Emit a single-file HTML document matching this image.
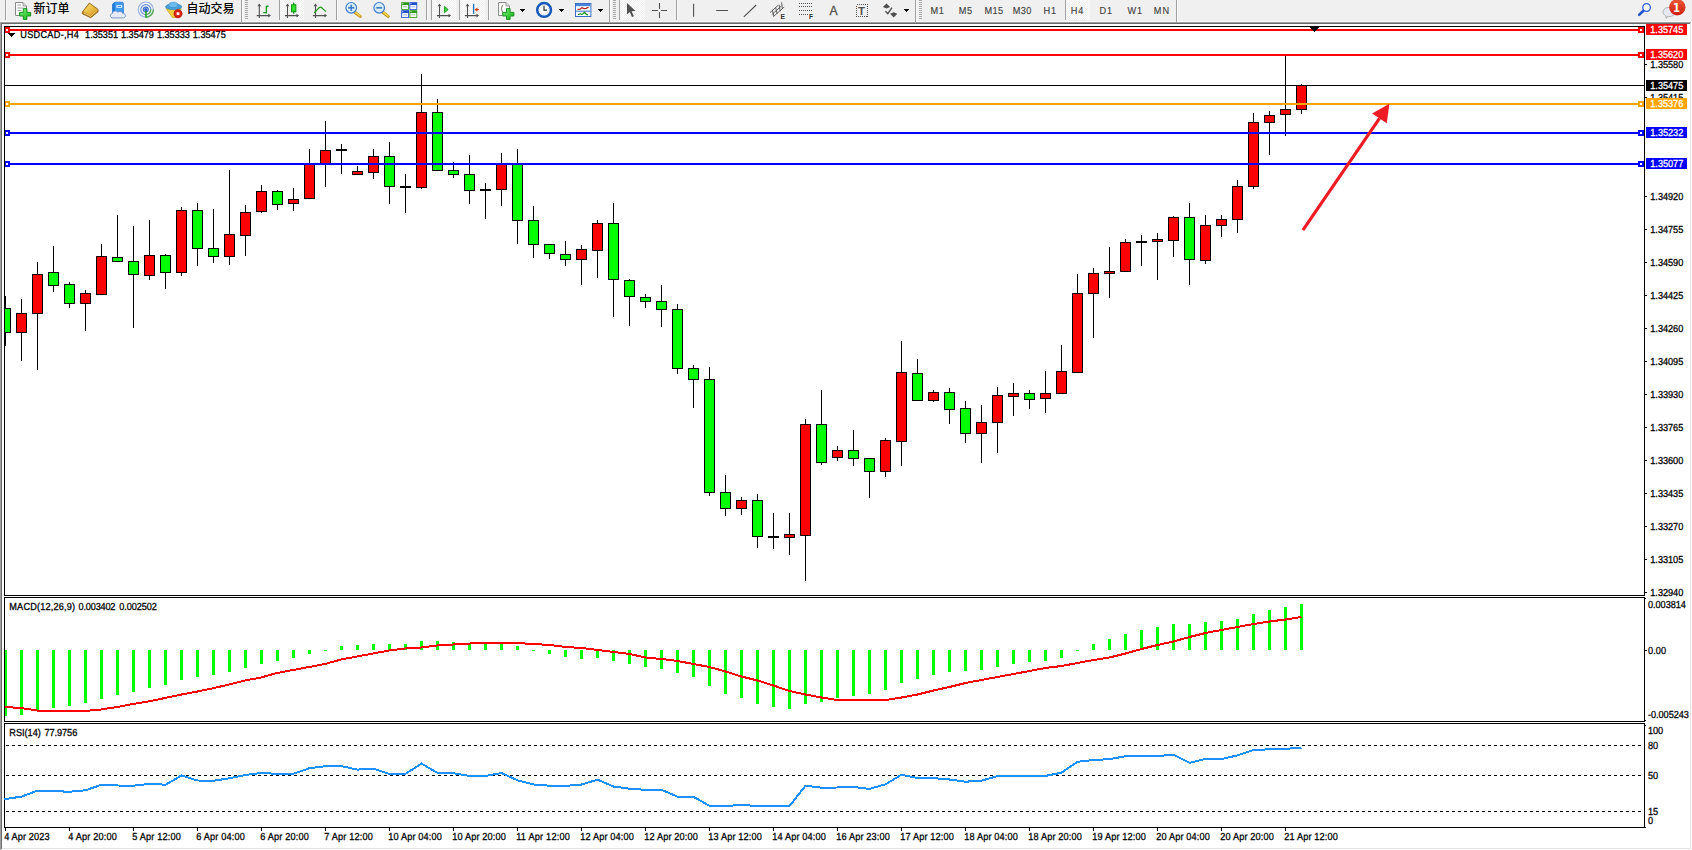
<!DOCTYPE html>
<html lang="zh"><head><meta charset="utf-8"><title>USDCAD-,H4</title>
<style>
html,body{margin:0;padding:0;background:#fff;}
body{width:1692px;height:850px;position:relative;overflow:hidden;font-family:"Liberation Sans","Noto Sans CJK SC",sans-serif;}
</style></head><body>

<svg id="chart" width="1692" height="850" viewBox="0 0 1692 850" style="position:absolute;left:0;top:0">
<defs><linearGradient id="plus" x1="0" y1="0" x2="1" y2="1"><stop offset="0" stop-color="#7df07d"/><stop offset="1" stop-color="#12b412"/></linearGradient><linearGradient id="gold" x1="0" y1="0" x2="1" y2="1"><stop offset="0" stop-color="#fbe27a"/><stop offset="1" stop-color="#d89a18"/></linearGradient><pattern id="chk" width="2" height="2" patternUnits="userSpaceOnUse"><rect width="2" height="2" fill="#f0f0f0"/><rect width="1" height="1" fill="#fff"/><rect x="1" y="1" width="1" height="1" fill="#fff"/></pattern><linearGradient id="badge" x1="0" y1="0" x2="0" y2="1"><stop offset="0" stop-color="#ea5a3a"/><stop offset="1" stop-color="#d01c0c"/></linearGradient></defs>
<g shape-rendering="crispEdges">
<rect x="0" y="0" width="1692" height="21" fill="#f0f0f0"/>
<rect x="0" y="21" width="1692" height="1" fill="#f6f6f6"/>
<rect x="0" y="22" width="1691" height="1" fill="#a0a0a0"/>
<rect x="1" y="23" width="1689" height="1" fill="#696969"/>
<rect x="0" y="22" width="1" height="828" fill="#a0a0a0"/>
<rect x="1" y="23" width="1" height="826" fill="#696969"/>
<rect x="1690" y="23" width="1" height="826" fill="#e3e3e3"/>
<rect x="2" y="848" width="1689" height="1" fill="#e3e3e3"/>
<rect x="5" y="0" width="1" height="20" fill="#a0a0a0"/>
<rect x="6" y="0" width="1" height="20" fill="#fafafa"/>
<rect x="279" y="0" width="1" height="20" fill="#a0a0a0"/>
<rect x="280" y="0" width="1" height="20" fill="#fafafa"/>
<rect x="336" y="0" width="1" height="20" fill="#a0a0a0"/>
<rect x="337" y="0" width="1" height="20" fill="#fafafa"/>
<rect x="426" y="0" width="1" height="20" fill="#a0a0a0"/>
<rect x="427" y="0" width="1" height="20" fill="#fafafa"/>
<rect x="488" y="0" width="1" height="20" fill="#a0a0a0"/>
<rect x="489" y="0" width="1" height="20" fill="#fafafa"/>
<rect x="676" y="0" width="1" height="20" fill="#a0a0a0"/>
<rect x="677" y="0" width="1" height="20" fill="#fafafa"/>
<rect x="241" y="0" width="1" height="22" fill="#a0a0a0"/>
<rect x="242" y="0" width="1" height="22" fill="#fafafa"/>
<rect x="609" y="0" width="1" height="22" fill="#a0a0a0"/>
<rect x="610" y="0" width="1" height="22" fill="#fafafa"/>
<rect x="915" y="0" width="1" height="22" fill="#a0a0a0"/>
<rect x="916" y="0" width="1" height="22" fill="#fafafa"/>
<rect x="1176" y="0" width="1" height="22" fill="#a0a0a0"/>
<rect x="1177" y="0" width="1" height="22" fill="#fafafa"/>
<rect x="245" y="0" width="3" height="1" fill="#a8a8a8"/>
<rect x="245" y="2" width="3" height="1" fill="#a8a8a8"/>
<rect x="245" y="4" width="3" height="1" fill="#a8a8a8"/>
<rect x="245" y="6" width="3" height="1" fill="#a8a8a8"/>
<rect x="245" y="8" width="3" height="1" fill="#a8a8a8"/>
<rect x="245" y="10" width="3" height="1" fill="#a8a8a8"/>
<rect x="245" y="12" width="3" height="1" fill="#a8a8a8"/>
<rect x="245" y="14" width="3" height="1" fill="#a8a8a8"/>
<rect x="245" y="16" width="3" height="1" fill="#a8a8a8"/>
<rect x="245" y="18" width="3" height="1" fill="#a8a8a8"/>
<rect x="613" y="0" width="3" height="1" fill="#a8a8a8"/>
<rect x="613" y="2" width="3" height="1" fill="#a8a8a8"/>
<rect x="613" y="4" width="3" height="1" fill="#a8a8a8"/>
<rect x="613" y="6" width="3" height="1" fill="#a8a8a8"/>
<rect x="613" y="8" width="3" height="1" fill="#a8a8a8"/>
<rect x="613" y="10" width="3" height="1" fill="#a8a8a8"/>
<rect x="613" y="12" width="3" height="1" fill="#a8a8a8"/>
<rect x="613" y="14" width="3" height="1" fill="#a8a8a8"/>
<rect x="613" y="16" width="3" height="1" fill="#a8a8a8"/>
<rect x="613" y="18" width="3" height="1" fill="#a8a8a8"/>
<rect x="919" y="0" width="3" height="1" fill="#a8a8a8"/>
<rect x="919" y="2" width="3" height="1" fill="#a8a8a8"/>
<rect x="919" y="4" width="3" height="1" fill="#a8a8a8"/>
<rect x="919" y="6" width="3" height="1" fill="#a8a8a8"/>
<rect x="919" y="8" width="3" height="1" fill="#a8a8a8"/>
<rect x="919" y="10" width="3" height="1" fill="#a8a8a8"/>
<rect x="919" y="12" width="3" height="1" fill="#a8a8a8"/>
<rect x="919" y="14" width="3" height="1" fill="#a8a8a8"/>
<rect x="919" y="16" width="3" height="1" fill="#a8a8a8"/>
<rect x="919" y="18" width="3" height="1" fill="#a8a8a8"/>
<rect x="279" y="0" width="1" height="20" fill="#a0a0a0"/>
<rect x="280" y="0" width="24" height="20" fill="url(#chk)"/>
<rect x="431" y="0" width="1" height="20" fill="#a0a0a0"/>
<rect x="432" y="0" width="24" height="20" fill="url(#chk)"/>
<rect x="459" y="0" width="1" height="20" fill="#a0a0a0"/>
<rect x="460" y="0" width="25" height="20" fill="url(#chk)"/>
<rect x="619" y="0" width="1" height="20" fill="#a0a0a0"/>
<rect x="620" y="0" width="25" height="20" fill="url(#chk)"/>
<rect x="1065" y="0" width="1" height="20" fill="#a0a0a0"/>
<rect x="1066" y="0" width="24" height="20" fill="url(#chk)"/>
</g>
<g><path d="M15.5 2.5h7.5l3.5 3.5v9.5h-11z" fill="#fdfdfd" stroke="#8a8a8a" stroke-width="1"/><path d="M23 2.5v3.5h3.5" fill="#e0e0e0" stroke="#8a8a8a" stroke-width="0.8"/><path d="M17.5 5h3.5M17.5 8h6M17.5 10.5h4" stroke="#a0a0a0" stroke-width="1"/><path d="M23.3 8.6h3.6v3.8h3.8v3.6h-3.8v3.4h-3.6v-3.4h-3.8v-3.6h3.8z" fill="url(#plus)" stroke="#0c8c10" stroke-width="0.9"/></g>
<g><path d="M82.3 12L89.3 3l8.8 6.4v2.4L90.8 17.8l-8.5-4z" fill="#b87c10" stroke="#8a5a0a" stroke-width="0.7"/><path d="M83.3 11.6L89.6 3.8l7.6 5.6-6.8 6z" fill="url(#gold)"/><path d="M83.6 12.8l7 3.4 7-6.2" stroke="#f3d98a" stroke-width="0.9" fill="none"/></g>
<g><path d="M112.6 4l2.4-1.8h7.6l0.8 1.2v9.6h-10.8z" fill="#3d9cf0" stroke="#1f6fc8" stroke-width="0.7"/><path d="M112.6 4l2.4-1.8v10.8h-2.4z" fill="#1f7ad8"/><rect x="116.4" y="5.2" width="5.8" height="2.6" fill="#e4f2ff"/><rect x="117.6" y="6" width="3.4" height="0.9" fill="#3d8ae0"/><path d="M113 17.9c-3.4 0-3.6-4.2-0.4-4.6 0.2-2.6 4-3.2 5.2-1 1.4-1.6 4.6-1 4.9 1.2 3.4-0.2 3.8 4.2 0.6 4.4z" fill="#e6ecf7" stroke="#7390c8" stroke-width="0.9"/></g>
<g fill="none"><circle cx="145.8" cy="9.6" r="7.6" stroke="#9db7e4" stroke-width="1.2"/><circle cx="145.8" cy="9.6" r="5" stroke="#6f97dc" stroke-width="1.2"/><circle cx="145.8" cy="9.6" r="2.4" stroke="#3f6fd0" stroke-width="1.2"/><path d="M145.8 17.2a7.6 7.6 0 0 0 7.6-7.6" stroke="#58b058" stroke-width="1.4"/><path d="M145.8 14.6a5 5 0 0 0 5-5" stroke="#58b058" stroke-width="1.3"/><path d="M146 9.6V17.6" stroke="#20a020" stroke-width="1.5"/><circle cx="145.8" cy="9.4" r="1.5" fill="#2a5fd0"/></g>
<g><path d="M166.2 8.6h15l-4.6 8.8h-4.2z" fill="#f7d23c" stroke="#c89a18" stroke-width="0.7"/><ellipse cx="173.6" cy="6.8" rx="8.2" ry="2.9" fill="#4aa0dc" stroke="#2b78b8" stroke-width="0.6"/><ellipse cx="173.4" cy="4.9" rx="4.6" ry="2.7" fill="#6bbcec" stroke="#2b78b8" stroke-width="0.5"/><circle cx="178" cy="13.7" r="4.2" fill="#d8200f" stroke="#a81208" stroke-width="0.5"/><rect x="176.6" y="12.3" width="2.8" height="2.8" fill="#fff"/></g>
<g stroke="#505050" stroke-width="1.1" fill="none"><path d="M259.3 4.8V18M256.7 15.6H269.8"/></g><path d="M259.3 3.6l-1.9 2.6h3.8zM270.90000000000003 15.6l-2.6 -1.9v3.8z" fill="#505050"/>
<path d="M266.4 6v7.4M266.4 6.2h2.2M263.2 12.6h3.2" stroke="#1a9a1a" stroke-width="1.4" fill="none"/>
<g stroke="#505050" stroke-width="1.1" fill="none"><path d="M287.5 4.8V18M284.9 15.6H298.0"/></g><path d="M287.5 3.6l-1.9 2.6h3.8zM299.1 15.6l-2.6 -1.9v3.8z" fill="#505050"/>
<path d="M293.7 2.4V13.8" stroke="#0a8a0a" stroke-width="1.2"/><rect x="291.5" y="4.8" width="4.4" height="7" fill="#2fe02f" stroke="#0a8a0a" stroke-width="0.9"/>
<g stroke="#505050" stroke-width="1.1" fill="none"><path d="M315.5 4.8V18M312.9 15.6H326.0"/></g><path d="M315.5 3.6l-1.9 2.6h3.8zM327.1 15.6l-2.6 -1.9v3.8z" fill="#505050"/>
<path d="M314 12.8c2.5-1 4-5.6 6.4-5.6 2 0 3.2 3.2 5.6 4.2" stroke="#1a9a1a" stroke-width="1.2" fill="none"/>
<path d="M354.8 12.2L360.2 16.4" stroke="#b88a10" stroke-width="3" stroke-linecap="round"/><path d="M355.0 12.2L360.0 16.0" stroke="#f2d24a" stroke-width="1.6" stroke-linecap="round"/><circle cx="351.2" cy="7.8" r="5.3" fill="#d8ecfb" stroke="#3f7fd0" stroke-width="1.2"/><path d="M348.2 7.8h6" stroke="#3f7fc8" stroke-width="1.7"/><path d="M351.2 4.8v6" stroke="#3f7fc8" stroke-width="1.7"/>
<path d="M382.8 12.2L388.2 16.4" stroke="#b88a10" stroke-width="3" stroke-linecap="round"/><path d="M383.0 12.2L388.0 16.0" stroke="#f2d24a" stroke-width="1.6" stroke-linecap="round"/><circle cx="379.2" cy="7.8" r="5.3" fill="#d8ecfb" stroke="#3f7fd0" stroke-width="1.2"/><path d="M376.2 7.8h6" stroke="#3f7fc8" stroke-width="1.7"/>
<rect x="401.2" y="2.2" width="7.8" height="7.6" fill="#2f9a1f"/><rect x="402.09999999999997" y="5.0" width="6.1" height="3.9" rx="0.5" fill="#f6f9ff"/><rect x="403.09999999999997" y="6.3" width="4" height="1" fill="#9ad08a"/><rect x="402.2" y="3.2" width="1" height="1" fill="#e8f0ff"/><rect x="409.4" y="2.2" width="7.8" height="7.6" fill="#2050c8"/><rect x="410.29999999999995" y="5.0" width="6.1" height="3.9" rx="0.5" fill="#f6f9ff"/><rect x="411.29999999999995" y="6.3" width="4" height="1" fill="#a0b8f0"/><rect x="410.4" y="3.2" width="1" height="1" fill="#e8f0ff"/><rect x="401.2" y="10.2" width="7.8" height="7.6" fill="#2050c8"/><rect x="402.09999999999997" y="13.0" width="6.1" height="3.9" rx="0.5" fill="#f6f9ff"/><rect x="403.09999999999997" y="14.299999999999999" width="4" height="1" fill="#a0b8f0"/><rect x="402.2" y="11.2" width="1" height="1" fill="#e8f0ff"/><rect x="409.4" y="10.2" width="7.8" height="7.6" fill="#2f9a1f"/><rect x="410.29999999999995" y="13.0" width="6.1" height="3.9" rx="0.5" fill="#f6f9ff"/><rect x="411.29999999999995" y="14.299999999999999" width="4" height="1" fill="#9ad08a"/><rect x="410.4" y="11.2" width="1" height="1" fill="#e8f0ff"/>
<g stroke="#505050" stroke-width="1.1" fill="none"><path d="M439.5 4.8V18M436.9 15.6H450.0"/></g><path d="M439.5 3.6l-1.9 2.6h3.8zM451.1 15.6l-2.6 -1.9v3.8z" fill="#505050"/>
<path d="M444.4 6.4v6.4l3.8-3.2z" fill="#38d038" stroke="#0f8f12" stroke-width="0.8"/>
<g stroke="#505050" stroke-width="1.1" fill="none"><path d="M467.5 4.8V18M464.9 15.6H478.0"/></g><path d="M467.5 3.6l-1.9 2.6h3.8zM479.1 15.6l-2.6 -1.9v3.8z" fill="#505050"/>
<path d="M473.6 3.8V13.8" stroke="#1a70b0" stroke-width="1.3"/><path d="M475 9.6h4" stroke="#d04010" stroke-width="1.2"/><path d="M474.6 9.6l2.8-2.2v4.4z" fill="#d04010"/>
<g><path d="M498.5 2.5h7.5l3.5 3.5v9.5h-11z" fill="#fdfdfd" stroke="#8a8a8a" stroke-width="1"/><path d="M506 2.5v3.5h3.5" fill="#e0e0e0" stroke="#8a8a8a" stroke-width="0.8"/><path d="M503.2 5.2c-1.6 0-1.2 3-1.8 3.6 0.6 0.6 0.2 3.4 1.8 3.4" stroke="#606050" stroke-width="0.9" fill="none"/><path d="M506.5 8.6h3.6v3.8h3.8v3.6h-3.8v3.4h-3.6v-3.4h-3.8v-3.6h3.8z" fill="url(#plus)" stroke="#0c8c10" stroke-width="0.9"/></g>
<g shape-rendering="crispEdges" fill="#000"><rect x="520" y="9" width="5" height="1"/><rect x="521" y="10" width="3" height="1"/><rect x="522" y="11" width="1" height="1"/></g>
<g shape-rendering="crispEdges" fill="#000"><rect x="559" y="9" width="5" height="1"/><rect x="560" y="10" width="3" height="1"/><rect x="561" y="11" width="1" height="1"/></g>
<g shape-rendering="crispEdges" fill="#000"><rect x="598" y="9" width="5" height="1"/><rect x="599" y="10" width="3" height="1"/><rect x="600" y="11" width="1" height="1"/></g>
<g shape-rendering="crispEdges" fill="#000"><rect x="904" y="9" width="5" height="1"/><rect x="905" y="10" width="3" height="1"/><rect x="906" y="11" width="1" height="1"/></g>
<g><circle cx="544.1" cy="9.9" r="6.9" fill="#f6f9fd" stroke="#1458b8" stroke-width="2.5"/><circle cx="544.1" cy="9.9" r="4.6" fill="none" stroke="#b0b8c4" stroke-width="0.8" stroke-dasharray="0.7 1.7"/><path d="M544 5.8v4.4h3" stroke="#303030" stroke-width="1.2" fill="none"/></g>
<g><rect x="575.5" y="3.5" width="15.4" height="13" fill="#fbfdff" stroke="#3a6fc4" stroke-width="1"/><rect x="576" y="4" width="14.4" height="2.2" fill="#4a86dc"/><path d="M576 11.2h14.4" stroke="#3a6fc4" stroke-width="1"/><path d="M577.5 9.4l2.6-0.2 1.8-1.6 2.2 1 2-0.2 2.4-1.2" stroke="#b02010" stroke-width="1.2" fill="none"/><path d="M578 14.6l2.2-0.8 1.8 0.6 2.6-2 1.8 2 1.6 0.4" stroke="#189018" stroke-width="1.2" fill="none"/></g>
<path d="M627 3v11.6l2.7-2.5 2.3 5 1.9-0.9-2.3-4.9 3.9-0.2z" fill="#505050"/>
<path d="M659.5 3v6M659.5 12v6M652 10.5h6M661 10.5h6" stroke="#505050" stroke-width="1.1" fill="none"/>
<path d="M693.6 3.8V16.8M716.2 10.5H728M743.8 16.8L756.2 5" stroke="#505050" stroke-width="1.1" fill="none"/>
<g stroke="#505050" stroke-width="0.9" fill="none"><path d="M770 12.6l8-7.2M771.8 14.6l9.6-8.6M773.4 16.6l10.8-9.6M772.4 9.8l1.4 6.4M775.6 7.4l1.6 6.4M779 4.6l1.2 6.6M781.6 2.4l0.8 6.4"/></g>
<text x="780.6" y="18.8" font-family="Liberation Sans, sans-serif" font-weight="bold" font-size="6.6" fill="#303030">E</text>
<g stroke="#505050" stroke-width="1" stroke-dasharray="1 1" fill="none" shape-rendering="crispEdges"><path d="M799 3.5H812.4M799 6.5H812.4M799 10H812.4M799 14.5H808"/></g>
<text x="809" y="18.8" font-family="Liberation Sans, sans-serif" font-weight="bold" font-size="6.6" fill="#303030">F</text>
<text x="829.6" y="14.8" font-family="Liberation Sans, sans-serif" font-size="12.2" fill="#505050" stroke="#505050" stroke-width="0.3">A</text>
<rect x="856.5" y="4.5" width="11" height="12" fill="none" stroke="#505050" stroke-width="1" stroke-dasharray="1 1" shape-rendering="crispEdges"/>
<text x="857.9" y="14.6" font-family="Liberation Sans, sans-serif" font-weight="bold" font-size="11.4" fill="#505050">T</text>
<path d="M886.5 3.4l3.6 3.6-3.6 1.6-3.6-1.6zM893.7 17.4l-3.6-3.6 3.6-1.6 3.6 1.6z" fill="#505050"/><path d="M885.4 11.2l2.4 2.4 4.2-6" stroke="#505050" stroke-width="1.4" fill="none"/>
<g font-family="Liberation Sans, sans-serif" font-size="10.2" fill="#3c3c3c" stroke="#3c3c3c" stroke-width="0.12" text-rendering="geometricPrecision">
<text transform="translate(930.6,14) scale(0.9,1)" textLength="14.67">M1</text>
<text transform="translate(958.8000000000001,14) scale(0.9,1)" textLength="14.89">M5</text>
<text transform="translate(984.6,14) scale(0.9,1)" textLength="20.67">M15</text>
<text transform="translate(1012.7,14) scale(0.9,1)" textLength="20.67">M30</text>
<text transform="translate(1043.6,14) scale(0.9,1)" textLength="14.00">H1</text>
<text transform="translate(1070.6999999999998,14) scale(0.9,1)" textLength="14.11">H4</text>
<text transform="translate(1099.5,14) scale(0.9,1)" textLength="14.00">D1</text>
<text transform="translate(1127.3999999999999,14) scale(0.9,1)" textLength="16.44">W1</text>
<text transform="translate(1153.8,14) scale(0.9,1)" textLength="17.11">MN</text>
</g>
<g font-family="Liberation Sans, Noto Sans CJK SC, sans-serif" font-size="12" font-weight="500" fill="#000"><text x="33.6" y="13.4">新订单</text><text x="186.6" y="13.4">自动交易</text></g>
<path d="M1643.4 10.8L1639.2 14.8" stroke="#2456cc" stroke-width="2.6" stroke-linecap="round"/><circle cx="1646.6" cy="7.5" r="3.8" fill="#f6f8ff" stroke="#2d5fd6" stroke-width="1.3"/>
<path d="M1669 7.4c3.4 0 6 2 6 4.6s-2.6 4.6-6 4.6c-0.6 0-1.2 0-1.7-0.2l-1 2-0.6-2.6c-1.7-0.8-2.7-2.2-2.7-3.8 0-2.6 2.6-4.6 6-4.6z" fill="#e6e8f2" stroke="#a9a9a9" stroke-width="0.9"/>
<circle cx="1677.3" cy="7.3" r="8.2" fill="url(#badge)"/>
<text transform="translate(1676.6,11.9) scale(0.86,1)" text-anchor="middle" font-family="DejaVu Sans, Liberation Sans, sans-serif" font-weight="bold" font-size="11.8" fill="#fff">1</text>
<g shape-rendering="crispEdges">
<rect x="4" y="26" width="1" height="570" fill="#000"/>
<rect x="4" y="26" width="1641" height="1" fill="#000"/>
<rect x="4" y="595" width="1641" height="1" fill="#000"/>
<rect x="1644" y="26" width="1" height="570" fill="#000"/>
<rect x="4" y="597" width="1" height="125" fill="#000"/>
<rect x="4" y="597" width="1641" height="1" fill="#000"/>
<rect x="4" y="721" width="1641" height="1" fill="#000"/>
<rect x="1644" y="597" width="1" height="125" fill="#000"/>
<rect x="4" y="723" width="1" height="105" fill="#000"/>
<rect x="4" y="723" width="1641" height="1" fill="#000"/>
<rect x="4" y="827" width="1641" height="1" fill="#000"/>
<rect x="1644" y="723" width="1" height="105" fill="#000"/>
<rect x="5" y="296" width="1" height="50" fill="#000"/>
<rect x="5" y="308" width="6" height="25" fill="#000"/>
<rect x="5" y="309" width="5" height="23" fill="#0f0"/>
<rect x="21" y="299" width="1" height="62" fill="#000"/>
<rect x="16" y="313" width="11" height="20" fill="#000"/>
<rect x="17" y="314" width="9" height="18" fill="#f00"/>
<rect x="37" y="262" width="1" height="108" fill="#000"/>
<rect x="32" y="274" width="11" height="40" fill="#000"/>
<rect x="33" y="275" width="9" height="38" fill="#f00"/>
<rect x="53" y="246" width="1" height="46" fill="#000"/>
<rect x="48" y="272" width="11" height="14" fill="#000"/>
<rect x="49" y="273" width="9" height="12" fill="#0f0"/>
<rect x="69" y="282" width="1" height="26" fill="#000"/>
<rect x="64" y="284" width="11" height="20" fill="#000"/>
<rect x="65" y="285" width="9" height="18" fill="#0f0"/>
<rect x="85" y="290" width="1" height="41" fill="#000"/>
<rect x="80" y="293" width="11" height="11" fill="#000"/>
<rect x="81" y="294" width="9" height="9" fill="#f00"/>
<rect x="101" y="244" width="1" height="51" fill="#000"/>
<rect x="96" y="256" width="11" height="39" fill="#000"/>
<rect x="97" y="257" width="9" height="37" fill="#f00"/>
<rect x="117" y="215" width="1" height="47" fill="#000"/>
<rect x="112" y="257" width="11" height="5" fill="#000"/>
<rect x="113" y="258" width="9" height="3" fill="#0f0"/>
<rect x="133" y="226" width="1" height="102" fill="#000"/>
<rect x="128" y="261" width="11" height="14" fill="#000"/>
<rect x="129" y="262" width="9" height="12" fill="#0f0"/>
<rect x="149" y="220" width="1" height="60" fill="#000"/>
<rect x="144" y="255" width="11" height="21" fill="#000"/>
<rect x="145" y="256" width="9" height="19" fill="#f00"/>
<rect x="165" y="254" width="1" height="35" fill="#000"/>
<rect x="160" y="255" width="11" height="18" fill="#000"/>
<rect x="161" y="256" width="9" height="16" fill="#0f0"/>
<rect x="181" y="207" width="1" height="69" fill="#000"/>
<rect x="176" y="210" width="11" height="63" fill="#000"/>
<rect x="177" y="211" width="9" height="61" fill="#f00"/>
<rect x="197" y="203" width="1" height="63" fill="#000"/>
<rect x="192" y="210" width="11" height="39" fill="#000"/>
<rect x="193" y="211" width="9" height="37" fill="#0f0"/>
<rect x="213" y="209" width="1" height="54" fill="#000"/>
<rect x="208" y="248" width="11" height="9" fill="#000"/>
<rect x="209" y="249" width="9" height="7" fill="#0f0"/>
<rect x="229" y="170" width="1" height="95" fill="#000"/>
<rect x="224" y="234" width="11" height="23" fill="#000"/>
<rect x="225" y="235" width="9" height="21" fill="#f00"/>
<rect x="245" y="205" width="1" height="51" fill="#000"/>
<rect x="240" y="212" width="11" height="24" fill="#000"/>
<rect x="241" y="213" width="9" height="22" fill="#f00"/>
<rect x="261" y="185" width="1" height="28" fill="#000"/>
<rect x="256" y="191" width="11" height="21" fill="#000"/>
<rect x="257" y="192" width="9" height="19" fill="#f00"/>
<rect x="277" y="190" width="1" height="20" fill="#000"/>
<rect x="272" y="191" width="11" height="14" fill="#000"/>
<rect x="273" y="192" width="9" height="12" fill="#0f0"/>
<rect x="293" y="188" width="1" height="23" fill="#000"/>
<rect x="288" y="199" width="11" height="5" fill="#000"/>
<rect x="289" y="200" width="9" height="3" fill="#f00"/>
<rect x="309" y="149" width="1" height="50" fill="#000"/>
<rect x="304" y="164" width="11" height="35" fill="#000"/>
<rect x="305" y="165" width="9" height="33" fill="#f00"/>
<rect x="325" y="121" width="1" height="66" fill="#000"/>
<rect x="320" y="150" width="11" height="15" fill="#000"/>
<rect x="321" y="151" width="9" height="13" fill="#f00"/>
<rect x="341" y="144" width="1" height="30" fill="#000"/>
<rect x="336" y="149" width="11" height="2" fill="#000"/>
<rect x="357" y="166" width="1" height="9" fill="#000"/>
<rect x="352" y="171" width="11" height="4" fill="#000"/>
<rect x="353" y="172" width="9" height="2" fill="#f00"/>
<rect x="373" y="149" width="1" height="30" fill="#000"/>
<rect x="368" y="156" width="11" height="17" fill="#000"/>
<rect x="369" y="157" width="9" height="15" fill="#f00"/>
<rect x="389" y="142" width="1" height="62" fill="#000"/>
<rect x="384" y="156" width="11" height="31" fill="#000"/>
<rect x="385" y="157" width="9" height="29" fill="#0f0"/>
<rect x="405" y="174" width="1" height="39" fill="#000"/>
<rect x="400" y="186" width="11" height="2" fill="#000"/>
<rect x="421" y="74" width="1" height="115" fill="#000"/>
<rect x="416" y="112" width="11" height="76" fill="#000"/>
<rect x="417" y="113" width="9" height="74" fill="#f00"/>
<rect x="437" y="99" width="1" height="72" fill="#000"/>
<rect x="432" y="112" width="11" height="59" fill="#000"/>
<rect x="433" y="113" width="9" height="57" fill="#0f0"/>
<rect x="453" y="162" width="1" height="16" fill="#000"/>
<rect x="448" y="170" width="11" height="5" fill="#000"/>
<rect x="449" y="171" width="9" height="3" fill="#0f0"/>
<rect x="469" y="155" width="1" height="49" fill="#000"/>
<rect x="464" y="174" width="11" height="17" fill="#000"/>
<rect x="465" y="175" width="9" height="15" fill="#0f0"/>
<rect x="485" y="183" width="1" height="36" fill="#000"/>
<rect x="480" y="189" width="11" height="2" fill="#000"/>
<rect x="501" y="153" width="1" height="53" fill="#000"/>
<rect x="496" y="164" width="11" height="26" fill="#000"/>
<rect x="497" y="165" width="9" height="24" fill="#f00"/>
<rect x="517" y="149" width="1" height="95" fill="#000"/>
<rect x="512" y="164" width="11" height="57" fill="#000"/>
<rect x="513" y="165" width="9" height="55" fill="#0f0"/>
<rect x="533" y="206" width="1" height="52" fill="#000"/>
<rect x="528" y="220" width="11" height="25" fill="#000"/>
<rect x="529" y="221" width="9" height="23" fill="#0f0"/>
<rect x="549" y="244" width="1" height="15" fill="#000"/>
<rect x="544" y="244" width="11" height="10" fill="#000"/>
<rect x="545" y="245" width="9" height="8" fill="#0f0"/>
<rect x="565" y="241" width="1" height="25" fill="#000"/>
<rect x="560" y="254" width="11" height="6" fill="#000"/>
<rect x="561" y="255" width="9" height="4" fill="#0f0"/>
<rect x="581" y="245" width="1" height="40" fill="#000"/>
<rect x="576" y="249" width="11" height="11" fill="#000"/>
<rect x="577" y="250" width="9" height="9" fill="#f00"/>
<rect x="597" y="220" width="1" height="58" fill="#000"/>
<rect x="592" y="223" width="11" height="28" fill="#000"/>
<rect x="593" y="224" width="9" height="26" fill="#f00"/>
<rect x="613" y="203" width="1" height="114" fill="#000"/>
<rect x="608" y="223" width="11" height="57" fill="#000"/>
<rect x="609" y="224" width="9" height="55" fill="#0f0"/>
<rect x="629" y="279" width="1" height="47" fill="#000"/>
<rect x="624" y="280" width="11" height="17" fill="#000"/>
<rect x="625" y="281" width="9" height="15" fill="#0f0"/>
<rect x="645" y="294" width="1" height="14" fill="#000"/>
<rect x="640" y="297" width="11" height="5" fill="#000"/>
<rect x="641" y="298" width="9" height="3" fill="#0f0"/>
<rect x="661" y="285" width="1" height="42" fill="#000"/>
<rect x="656" y="301" width="11" height="9" fill="#000"/>
<rect x="657" y="302" width="9" height="7" fill="#0f0"/>
<rect x="677" y="304" width="1" height="70" fill="#000"/>
<rect x="672" y="309" width="11" height="60" fill="#000"/>
<rect x="673" y="310" width="9" height="58" fill="#0f0"/>
<rect x="693" y="365" width="1" height="43" fill="#000"/>
<rect x="688" y="368" width="11" height="12" fill="#000"/>
<rect x="689" y="369" width="9" height="10" fill="#0f0"/>
<rect x="709" y="367" width="1" height="129" fill="#000"/>
<rect x="704" y="379" width="11" height="114" fill="#000"/>
<rect x="705" y="380" width="9" height="112" fill="#0f0"/>
<rect x="725" y="475" width="1" height="41" fill="#000"/>
<rect x="720" y="492" width="11" height="17" fill="#000"/>
<rect x="721" y="493" width="9" height="15" fill="#0f0"/>
<rect x="741" y="497" width="1" height="18" fill="#000"/>
<rect x="736" y="500" width="11" height="9" fill="#000"/>
<rect x="737" y="501" width="9" height="7" fill="#f00"/>
<rect x="757" y="494" width="1" height="54" fill="#000"/>
<rect x="752" y="500" width="11" height="37" fill="#000"/>
<rect x="753" y="501" width="9" height="35" fill="#0f0"/>
<rect x="773" y="513" width="1" height="36" fill="#000"/>
<rect x="768" y="536" width="11" height="2" fill="#000"/>
<rect x="789" y="513" width="1" height="42" fill="#000"/>
<rect x="784" y="534" width="11" height="4" fill="#000"/>
<rect x="785" y="535" width="9" height="2" fill="#f00"/>
<rect x="805" y="419" width="1" height="162" fill="#000"/>
<rect x="800" y="424" width="11" height="112" fill="#000"/>
<rect x="801" y="425" width="9" height="110" fill="#f00"/>
<rect x="821" y="390" width="1" height="75" fill="#000"/>
<rect x="816" y="424" width="11" height="39" fill="#000"/>
<rect x="817" y="425" width="9" height="37" fill="#0f0"/>
<rect x="837" y="446" width="1" height="15" fill="#000"/>
<rect x="832" y="450" width="11" height="8" fill="#000"/>
<rect x="833" y="451" width="9" height="6" fill="#f00"/>
<rect x="853" y="430" width="1" height="36" fill="#000"/>
<rect x="848" y="450" width="11" height="9" fill="#000"/>
<rect x="849" y="451" width="9" height="7" fill="#0f0"/>
<rect x="869" y="458" width="1" height="40" fill="#000"/>
<rect x="864" y="458" width="11" height="14" fill="#000"/>
<rect x="865" y="459" width="9" height="12" fill="#0f0"/>
<rect x="885" y="438" width="1" height="39" fill="#000"/>
<rect x="880" y="440" width="11" height="32" fill="#000"/>
<rect x="881" y="441" width="9" height="30" fill="#f00"/>
<rect x="901" y="341" width="1" height="125" fill="#000"/>
<rect x="896" y="372" width="11" height="70" fill="#000"/>
<rect x="897" y="373" width="9" height="68" fill="#f00"/>
<rect x="917" y="359" width="1" height="42" fill="#000"/>
<rect x="912" y="373" width="11" height="28" fill="#000"/>
<rect x="913" y="374" width="9" height="26" fill="#0f0"/>
<rect x="933" y="390" width="1" height="12" fill="#000"/>
<rect x="928" y="392" width="11" height="9" fill="#000"/>
<rect x="929" y="393" width="9" height="7" fill="#f00"/>
<rect x="949" y="388" width="1" height="36" fill="#000"/>
<rect x="944" y="392" width="11" height="18" fill="#000"/>
<rect x="945" y="393" width="9" height="16" fill="#0f0"/>
<rect x="965" y="401" width="1" height="42" fill="#000"/>
<rect x="960" y="408" width="11" height="26" fill="#000"/>
<rect x="961" y="409" width="9" height="24" fill="#0f0"/>
<rect x="981" y="405" width="1" height="58" fill="#000"/>
<rect x="976" y="422" width="11" height="12" fill="#000"/>
<rect x="977" y="423" width="9" height="10" fill="#f00"/>
<rect x="997" y="387" width="1" height="66" fill="#000"/>
<rect x="992" y="395" width="11" height="28" fill="#000"/>
<rect x="993" y="396" width="9" height="26" fill="#f00"/>
<rect x="1013" y="383" width="1" height="33" fill="#000"/>
<rect x="1008" y="393" width="11" height="4" fill="#000"/>
<rect x="1009" y="394" width="9" height="2" fill="#f00"/>
<rect x="1029" y="390" width="1" height="19" fill="#000"/>
<rect x="1024" y="393" width="11" height="7" fill="#000"/>
<rect x="1025" y="394" width="9" height="5" fill="#0f0"/>
<rect x="1045" y="371" width="1" height="42" fill="#000"/>
<rect x="1040" y="393" width="11" height="6" fill="#000"/>
<rect x="1041" y="394" width="9" height="4" fill="#f00"/>
<rect x="1061" y="345" width="1" height="49" fill="#000"/>
<rect x="1056" y="371" width="11" height="23" fill="#000"/>
<rect x="1057" y="372" width="9" height="21" fill="#f00"/>
<rect x="1077" y="274" width="1" height="99" fill="#000"/>
<rect x="1072" y="293" width="11" height="80" fill="#000"/>
<rect x="1073" y="294" width="9" height="78" fill="#f00"/>
<rect x="1093" y="268" width="1" height="70" fill="#000"/>
<rect x="1088" y="273" width="11" height="21" fill="#000"/>
<rect x="1089" y="274" width="9" height="19" fill="#f00"/>
<rect x="1109" y="247" width="1" height="51" fill="#000"/>
<rect x="1104" y="271" width="11" height="3" fill="#000"/>
<rect x="1105" y="272" width="9" height="1" fill="#f00"/>
<rect x="1125" y="239" width="1" height="33" fill="#000"/>
<rect x="1120" y="242" width="11" height="30" fill="#000"/>
<rect x="1121" y="243" width="9" height="28" fill="#f00"/>
<rect x="1141" y="235" width="1" height="31" fill="#000"/>
<rect x="1136" y="241" width="11" height="2" fill="#000"/>
<rect x="1157" y="233" width="1" height="47" fill="#000"/>
<rect x="1152" y="239" width="11" height="3" fill="#000"/>
<rect x="1153" y="240" width="9" height="1" fill="#f00"/>
<rect x="1173" y="216" width="1" height="41" fill="#000"/>
<rect x="1168" y="217" width="11" height="24" fill="#000"/>
<rect x="1169" y="218" width="9" height="22" fill="#f00"/>
<rect x="1189" y="203" width="1" height="82" fill="#000"/>
<rect x="1184" y="217" width="11" height="43" fill="#000"/>
<rect x="1185" y="218" width="9" height="41" fill="#0f0"/>
<rect x="1205" y="215" width="1" height="49" fill="#000"/>
<rect x="1200" y="225" width="11" height="36" fill="#000"/>
<rect x="1201" y="226" width="9" height="34" fill="#f00"/>
<rect x="1221" y="215" width="1" height="22" fill="#000"/>
<rect x="1216" y="219" width="11" height="7" fill="#000"/>
<rect x="1217" y="220" width="9" height="5" fill="#f00"/>
<rect x="1237" y="180" width="1" height="53" fill="#000"/>
<rect x="1232" y="186" width="11" height="34" fill="#000"/>
<rect x="1233" y="187" width="9" height="32" fill="#f00"/>
<rect x="1253" y="113" width="1" height="76" fill="#000"/>
<rect x="1248" y="122" width="11" height="65" fill="#000"/>
<rect x="1249" y="123" width="9" height="63" fill="#f00"/>
<rect x="1269" y="111" width="1" height="44" fill="#000"/>
<rect x="1264" y="115" width="11" height="8" fill="#000"/>
<rect x="1265" y="116" width="9" height="6" fill="#f00"/>
<rect x="1285" y="56" width="1" height="80" fill="#000"/>
<rect x="1280" y="109" width="11" height="6" fill="#000"/>
<rect x="1281" y="110" width="9" height="4" fill="#f00"/>
<rect x="1301" y="84" width="1" height="30" fill="#000"/>
<rect x="1296" y="85" width="11" height="25" fill="#000"/>
<rect x="1297" y="86" width="9" height="23" fill="#f00"/>
<rect x="5" y="85" width="1639" height="1" fill="#000"/>
<rect x="5" y="29" width="1639" height="2" fill="#f00"/>
<rect x="5" y="27" width="5" height="6" fill="#f00"/>
<rect x="6" y="29" width="2" height="2" fill="#fff"/>
<rect x="1638" y="27" width="6" height="6" fill="#f00"/>
<rect x="1640" y="29" width="2" height="2" fill="#fff"/>
<rect x="5" y="54" width="1639" height="2" fill="#f00"/>
<rect x="5" y="52" width="5" height="6" fill="#f00"/>
<rect x="6" y="54" width="2" height="2" fill="#fff"/>
<rect x="1638" y="52" width="6" height="6" fill="#f00"/>
<rect x="1640" y="54" width="2" height="2" fill="#fff"/>
<rect x="5" y="103" width="1639" height="2" fill="#ffa500"/>
<rect x="5" y="101" width="5" height="6" fill="#ffa500"/>
<rect x="6" y="103" width="2" height="2" fill="#fff"/>
<rect x="1638" y="101" width="6" height="6" fill="#ffa500"/>
<rect x="1640" y="103" width="2" height="2" fill="#fff"/>
<rect x="5" y="132" width="1639" height="2" fill="#00f"/>
<rect x="5" y="130" width="5" height="6" fill="#00f"/>
<rect x="6" y="132" width="2" height="2" fill="#fff"/>
<rect x="1638" y="130" width="6" height="6" fill="#00f"/>
<rect x="1640" y="132" width="2" height="2" fill="#fff"/>
<rect x="5" y="163" width="1639" height="2" fill="#00f"/>
<rect x="5" y="161" width="5" height="6" fill="#00f"/>
<rect x="6" y="163" width="2" height="2" fill="#fff"/>
<rect x="1638" y="161" width="6" height="6" fill="#00f"/>
<rect x="1640" y="163" width="2" height="2" fill="#fff"/>
<rect x="1310" y="27" width="9" height="1" fill="#000"/>
<rect x="1311" y="28" width="7" height="1" fill="#000"/>
<rect x="1312" y="29" width="5" height="1" fill="#000"/>
<rect x="1313" y="30" width="3" height="1" fill="#000"/>
<rect x="1314" y="31" width="1" height="1" fill="#000"/>
<rect x="8" y="33" width="7" height="1" fill="#000"/>
<rect x="9" y="34" width="5" height="1" fill="#000"/>
<rect x="10" y="35" width="3" height="1" fill="#000"/>
<rect x="11" y="36" width="1" height="1" fill="#000"/>
<rect x="1645" y="64" width="2" height="1" fill="#000"/>
<rect x="1645" y="97" width="2" height="1" fill="#000"/>
<rect x="1645" y="196" width="2" height="1" fill="#000"/>
<rect x="1645" y="229" width="2" height="1" fill="#000"/>
<rect x="1645" y="262" width="2" height="1" fill="#000"/>
<rect x="1645" y="295" width="2" height="1" fill="#000"/>
<rect x="1645" y="328" width="2" height="1" fill="#000"/>
<rect x="1645" y="361" width="2" height="1" fill="#000"/>
<rect x="1645" y="394" width="2" height="1" fill="#000"/>
<rect x="1645" y="427" width="2" height="1" fill="#000"/>
<rect x="1645" y="460" width="2" height="1" fill="#000"/>
<rect x="1645" y="493" width="2" height="1" fill="#000"/>
<rect x="1645" y="526" width="2" height="1" fill="#000"/>
<rect x="1645" y="559" width="2" height="1" fill="#000"/>
<rect x="1645" y="592" width="2" height="1" fill="#000"/>
<rect x="5" y="650" width="2" height="66" fill="#0f0"/>
<rect x="20" y="650" width="3" height="65" fill="#0f0"/>
<rect x="36" y="650" width="3" height="61" fill="#0f0"/>
<rect x="52" y="650" width="3" height="58" fill="#0f0"/>
<rect x="68" y="650" width="3" height="56" fill="#0f0"/>
<rect x="84" y="650" width="3" height="53" fill="#0f0"/>
<rect x="100" y="650" width="3" height="49" fill="#0f0"/>
<rect x="116" y="650" width="3" height="45" fill="#0f0"/>
<rect x="132" y="650" width="3" height="42" fill="#0f0"/>
<rect x="148" y="650" width="3" height="38" fill="#0f0"/>
<rect x="164" y="650" width="3" height="35" fill="#0f0"/>
<rect x="180" y="650" width="3" height="30" fill="#0f0"/>
<rect x="196" y="650" width="3" height="27" fill="#0f0"/>
<rect x="212" y="650" width="3" height="25" fill="#0f0"/>
<rect x="228" y="650" width="3" height="22" fill="#0f0"/>
<rect x="244" y="650" width="3" height="18" fill="#0f0"/>
<rect x="260" y="650" width="3" height="14" fill="#0f0"/>
<rect x="276" y="650" width="3" height="11" fill="#0f0"/>
<rect x="292" y="650" width="3" height="8" fill="#0f0"/>
<rect x="308" y="650" width="3" height="4" fill="#0f0"/>
<rect x="324" y="650" width="3" height="1" fill="#0f0"/>
<rect x="340" y="646" width="3" height="4" fill="#0f0"/>
<rect x="356" y="645" width="3" height="5" fill="#0f0"/>
<rect x="372" y="644" width="3" height="6" fill="#0f0"/>
<rect x="388" y="644" width="3" height="6" fill="#0f0"/>
<rect x="404" y="644" width="3" height="6" fill="#0f0"/>
<rect x="420" y="641" width="3" height="9" fill="#0f0"/>
<rect x="436" y="641" width="3" height="9" fill="#0f0"/>
<rect x="452" y="642" width="3" height="8" fill="#0f0"/>
<rect x="468" y="643" width="3" height="7" fill="#0f0"/>
<rect x="484" y="644" width="3" height="6" fill="#0f0"/>
<rect x="500" y="644" width="3" height="6" fill="#0f0"/>
<rect x="516" y="646" width="3" height="4" fill="#0f0"/>
<rect x="532" y="650" width="3" height="1" fill="#0f0"/>
<rect x="548" y="650" width="3" height="4" fill="#0f0"/>
<rect x="564" y="650" width="3" height="7" fill="#0f0"/>
<rect x="580" y="650" width="3" height="9" fill="#0f0"/>
<rect x="596" y="650" width="3" height="8" fill="#0f0"/>
<rect x="612" y="650" width="3" height="11" fill="#0f0"/>
<rect x="628" y="650" width="3" height="14" fill="#0f0"/>
<rect x="644" y="650" width="3" height="17" fill="#0f0"/>
<rect x="660" y="650" width="3" height="19" fill="#0f0"/>
<rect x="676" y="650" width="3" height="23" fill="#0f0"/>
<rect x="692" y="650" width="3" height="27" fill="#0f0"/>
<rect x="708" y="650" width="3" height="36" fill="#0f0"/>
<rect x="724" y="650" width="3" height="44" fill="#0f0"/>
<rect x="740" y="650" width="3" height="48" fill="#0f0"/>
<rect x="756" y="650" width="3" height="54" fill="#0f0"/>
<rect x="772" y="650" width="3" height="57" fill="#0f0"/>
<rect x="788" y="650" width="3" height="59" fill="#0f0"/>
<rect x="804" y="650" width="3" height="54" fill="#0f0"/>
<rect x="820" y="650" width="3" height="52" fill="#0f0"/>
<rect x="836" y="650" width="3" height="48" fill="#0f0"/>
<rect x="852" y="650" width="3" height="46" fill="#0f0"/>
<rect x="868" y="650" width="3" height="44" fill="#0f0"/>
<rect x="884" y="650" width="3" height="40" fill="#0f0"/>
<rect x="900" y="650" width="3" height="33" fill="#0f0"/>
<rect x="916" y="650" width="3" height="29" fill="#0f0"/>
<rect x="932" y="650" width="3" height="25" fill="#0f0"/>
<rect x="948" y="650" width="3" height="22" fill="#0f0"/>
<rect x="964" y="650" width="3" height="21" fill="#0f0"/>
<rect x="980" y="650" width="3" height="20" fill="#0f0"/>
<rect x="996" y="650" width="3" height="17" fill="#0f0"/>
<rect x="1012" y="650" width="3" height="14" fill="#0f0"/>
<rect x="1028" y="650" width="3" height="12" fill="#0f0"/>
<rect x="1044" y="650" width="3" height="11" fill="#0f0"/>
<rect x="1060" y="650" width="3" height="8" fill="#0f0"/>
<rect x="1076" y="650" width="3" height="1" fill="#0f0"/>
<rect x="1092" y="644" width="3" height="6" fill="#0f0"/>
<rect x="1108" y="639" width="3" height="11" fill="#0f0"/>
<rect x="1124" y="634" width="3" height="16" fill="#0f0"/>
<rect x="1140" y="630" width="3" height="20" fill="#0f0"/>
<rect x="1156" y="627" width="3" height="23" fill="#0f0"/>
<rect x="1172" y="624" width="3" height="26" fill="#0f0"/>
<rect x="1188" y="624" width="3" height="26" fill="#0f0"/>
<rect x="1204" y="622" width="3" height="28" fill="#0f0"/>
<rect x="1220" y="621" width="3" height="29" fill="#0f0"/>
<rect x="1236" y="619" width="3" height="31" fill="#0f0"/>
<rect x="1252" y="614" width="3" height="36" fill="#0f0"/>
<rect x="1268" y="610" width="3" height="40" fill="#0f0"/>
<rect x="1284" y="607" width="3" height="43" fill="#0f0"/>
<rect x="1300" y="604" width="3" height="46" fill="#0f0"/>
<rect x="1645" y="650" width="2" height="1" fill="#000"/>
<rect x="1645" y="720" width="1" height="1" fill="#000"/>
<rect x="1645" y="725" width="1" height="1" fill="#000"/>
<rect x="1645" y="598" width="1" height="1" fill="#000"/>
<rect x="1645" y="827" width="1" height="1" fill="#000"/>
<path d="M6 745.5H1644" stroke="#000" stroke-width="1" stroke-dasharray="3 3" fill="none"/>
<path d="M6 775.5H1644" stroke="#000" stroke-width="1" stroke-dasharray="3 3" fill="none"/>
<path d="M6 811.5H1644" stroke="#000" stroke-width="1" stroke-dasharray="3 3" fill="none"/>
<rect x="5" y="828" width="1" height="3" fill="#000"/>
<rect x="69" y="828" width="1" height="3" fill="#000"/>
<rect x="133" y="828" width="1" height="3" fill="#000"/>
<rect x="197" y="828" width="1" height="3" fill="#000"/>
<rect x="261" y="828" width="1" height="3" fill="#000"/>
<rect x="325" y="828" width="1" height="3" fill="#000"/>
<rect x="389" y="828" width="1" height="3" fill="#000"/>
<rect x="453" y="828" width="1" height="3" fill="#000"/>
<rect x="517" y="828" width="1" height="3" fill="#000"/>
<rect x="581" y="828" width="1" height="3" fill="#000"/>
<rect x="645" y="828" width="1" height="3" fill="#000"/>
<rect x="709" y="828" width="1" height="3" fill="#000"/>
<rect x="773" y="828" width="1" height="3" fill="#000"/>
<rect x="837" y="828" width="1" height="3" fill="#000"/>
<rect x="901" y="828" width="1" height="3" fill="#000"/>
<rect x="965" y="828" width="1" height="3" fill="#000"/>
<rect x="1029" y="828" width="1" height="3" fill="#000"/>
<rect x="1093" y="828" width="1" height="3" fill="#000"/>
<rect x="1157" y="828" width="1" height="3" fill="#000"/>
<rect x="1221" y="828" width="1" height="3" fill="#000"/>
<rect x="1285" y="828" width="1" height="3" fill="#000"/>
</g>
<polyline points="5,707 21,708 37,710.5 53,711 69,711 85,711 101,709.5 117,707 133,704 149,701.3 165,698 181,694.6 197,691.6 213,688.3 229,684.5 245,680.5 261,677.5 277,673 293,670 309,667 325,664 341,659.5 357,656.5 373,653.5 389,650.5 405,648.5 421.5,647.5 437.5,645.5 453.5,644.5 470,643.5 485,643 501,643 517,643 533.5,644 549.5,645 565.5,647 581.5,648 597.5,650 613.5,652 629.5,654 645.5,657.5 661.5,659 677.5,661 693.5,664 709.5,667 725.5,671.5 741.5,676.5 757.5,680.5 773.5,685.5 789.5,691 805.5,694.5 821.5,697.5 837.5,700 853.5,700 869.5,700 885.5,700 901.5,697.5 917.5,694.5 933.5,690.5 949.5,687 965.5,683 981.5,680 997.5,677 1013.5,674 1029.5,671 1045.5,668 1061.5,666 1077.5,663 1093.5,660 1109.5,657.5 1125.5,653.5 1141.5,649 1157.5,645 1173.5,641.5 1189.5,637 1205.5,633 1221.5,630 1237.5,627 1253.5,624 1269.5,621.5 1285.5,619.5 1301.5,617" fill="none" stroke="#f00" stroke-width="2" shape-rendering="crispEdges"/>
<polyline points="4.5,799.5 5.5,799 21.5,796.6 37.5,790.7 53.5,791.2 69.5,791.7 85.5,790.3 101.5,784.7 117.5,785.5 133.5,785.7 149.5,783.9 165.5,784.7 181.5,775.5 197.5,780.5 213.5,780.7 229.5,778.3 245.5,775 261.5,772.9 277.5,773.9 293.5,773.7 309.5,768.2 325.5,766.2 341.5,766.2 357.5,769.6 373.5,768.8 389.5,773.9 405.5,773.9 421.5,763.6 437.5,772.9 453.5,773.3 469.5,775.9 485.5,775.9 501.5,773 517.5,780.3 533.5,784.5 549.5,785.7 565.5,785.9 581.5,784.5 597.5,779.7 613.5,786.5 629.5,788.7 645.5,789.8 661.5,789.9 677.5,796.6 693.5,796.8 709.5,805.8 725.5,806 741.5,805 757.5,806 773.5,806 789.5,806 805.5,785.7 821.5,787.7 837.5,787.5 853.5,786.9 869.5,788.9 885.5,784.3 901.5,774.7 917.5,778.1 933.5,778.1 949.5,779.5 965.5,781.7 981.5,780.7 997.5,776 1013.5,775.9 1029.5,775.9 1045.5,775.9 1061.5,772.7 1077.5,761.8 1093.5,760 1109.5,759.2 1125.5,756.2 1141.5,756 1157.5,756 1173.5,754.8 1189.5,762.8 1205.5,759 1221.5,759 1237.5,755.4 1253.5,750.1 1269.5,749.3 1285.5,748.7 1301.5,748" fill="none" stroke="#1e90ff" stroke-width="2" shape-rendering="crispEdges"/>
<g fill="#ed1c24" stroke="none"><path d="M1389.4 103.8 L1372.1 113.5 L1386.8 123.2 Z"/><path d="M1302.9 230.1 L1379.5 118.4" stroke="#ed1c24" stroke-width="3.2" fill="none"/></g>
<g font-family="Liberation Sans, sans-serif" font-size="10.2" letter-spacing="-0.1" stroke-width="0.28" text-rendering="geometricPrecision" fill="#000" stroke="#000">
<text transform="translate(1650.3,68) scale(0.9,1)" textLength="36.56">1.35580</text>
<text transform="translate(1650.3,101) scale(0.9,1)" textLength="36.56">1.35415</text>
<text transform="translate(1650.3,200) scale(0.9,1)" textLength="36.56">1.34920</text>
<text transform="translate(1650.3,233) scale(0.9,1)" textLength="36.56">1.34755</text>
<text transform="translate(1650.3,266) scale(0.9,1)" textLength="36.56">1.34590</text>
<text transform="translate(1650.3,299) scale(0.9,1)" textLength="36.56">1.34425</text>
<text transform="translate(1650.3,332) scale(0.9,1)" textLength="36.56">1.34260</text>
<text transform="translate(1650.3,365) scale(0.9,1)" textLength="36.56">1.34095</text>
<text transform="translate(1650.3,398) scale(0.9,1)" textLength="36.56">1.33930</text>
<text transform="translate(1650.3,431) scale(0.9,1)" textLength="36.56">1.33765</text>
<text transform="translate(1650.3,464) scale(0.9,1)" textLength="36.56">1.33600</text>
<text transform="translate(1650.3,497) scale(0.9,1)" textLength="36.56">1.33435</text>
<text transform="translate(1650.3,530) scale(0.9,1)" textLength="36.56">1.33270</text>
<text transform="translate(1650.3,563) scale(0.9,1)" textLength="36.56">1.33105</text>
<text transform="translate(1650.3,596) scale(0.9,1)" textLength="36.56">1.32940</text>
</g>
<g shape-rendering="crispEdges">
<rect x="1646" y="24" width="41" height="11" fill="#f00"/>
<rect x="1646" y="49" width="41" height="11" fill="#f00"/>
<rect x="1646" y="80" width="41" height="11" fill="#000"/>
<rect x="1646" y="98" width="41" height="11" fill="#ffa500"/>
<rect x="1646" y="127" width="41" height="11" fill="#00f"/>
<rect x="1646" y="158" width="41" height="11" fill="#00f"/>
</g>
<g font-family="Liberation Sans, sans-serif" font-size="10.2" letter-spacing="-0.1" stroke-width="0.28" text-rendering="geometricPrecision" fill="#fff" stroke="#fff">
<text transform="translate(1650.3,33) scale(0.9,1)" textLength="36.56">1.35745</text>
<text transform="translate(1650.3,58) scale(0.9,1)" textLength="36.56">1.35620</text>
<text transform="translate(1650.3,89) scale(0.9,1)" textLength="36.56">1.35475</text>
<text transform="translate(1650.3,107) scale(0.9,1)" textLength="36.56">1.35376</text>
<text transform="translate(1650.3,136) scale(0.9,1)" textLength="36.56">1.35232</text>
<text transform="translate(1650.3,167) scale(0.9,1)" textLength="36.56">1.35077</text>
</g>
<g font-family="Liberation Sans, sans-serif" font-size="10.2" letter-spacing="-0.1" stroke-width="0.28" text-rendering="geometricPrecision" fill="#000" stroke="#000">
<text transform="translate(1648,608) scale(0.9,1)" textLength="42.00">0.003814</text>
<text transform="translate(1648,654) scale(0.9,1)" textLength="20.00">0.00</text>
<text transform="translate(1648,718) scale(0.9,1)" textLength="45.33">-0.005243</text>
<text transform="translate(1648,734) scale(0.9,1)">100</text>
<text transform="translate(1648,749) scale(0.9,1)">80</text>
<text transform="translate(1648,779) scale(0.9,1)">50</text>
<text transform="translate(1648,815) scale(0.9,1)">15</text>
<text transform="translate(1648,824) scale(0.9,1)">0</text>
<text transform="translate(20.3,37.8) scale(0.9,1)" textLength="64.89">USDCAD-,H4</text>
<text transform="translate(85.1,37.8) scale(0.9,1)" textLength="36.56">1.35351</text>
<text transform="translate(121.0,37.8) scale(0.9,1)" textLength="36.56">1.35479</text>
<text transform="translate(156.9,37.8) scale(0.9,1)" textLength="36.56">1.35333</text>
<text transform="translate(192.8,37.8) scale(0.9,1)" textLength="36.56">1.35475</text>
<text transform="translate(9.3,610) scale(0.9,1)" textLength="72.89">MACD(12,26,9)</text>
<text transform="translate(78.6,610) scale(0.9,1)" textLength="40.89">0.003402</text>
<text transform="translate(119.3,610) scale(0.9,1)" textLength="41.67">0.002502</text>
<text transform="translate(9.3,736) scale(0.9,1)" textLength="34.89">RSI(14)</text>
<text transform="translate(44.4,736) scale(0.9,1)" textLength="36.44">77.9756</text>
<text transform="translate(4.2,840.2) scale(0.9,1)" textLength="50.22">4 Apr 2023</text>
<text transform="translate(68.2,840.2) scale(0.9,1)" textLength="54.00">4 Apr 20:00</text>
<text transform="translate(132.2,840.2) scale(0.9,1)" textLength="54.00">5 Apr 12:00</text>
<text transform="translate(196.2,840.2) scale(0.9,1)" textLength="54.00">6 Apr 04:00</text>
<text transform="translate(260.2,840.2) scale(0.9,1)" textLength="54.00">6 Apr 20:00</text>
<text transform="translate(324.2,840.2) scale(0.9,1)" textLength="54.00">7 Apr 12:00</text>
<text transform="translate(388.2,840.2) scale(0.9,1)" textLength="59.56">10 Apr 04:00</text>
<text transform="translate(452.2,840.2) scale(0.9,1)" textLength="59.56">10 Apr 20:00</text>
<text transform="translate(516.2,840.2) scale(0.9,1)" textLength="59.56">11 Apr 12:00</text>
<text transform="translate(580.2,840.2) scale(0.9,1)" textLength="59.56">12 Apr 04:00</text>
<text transform="translate(644.2,840.2) scale(0.9,1)" textLength="59.56">12 Apr 20:00</text>
<text transform="translate(708.2,840.2) scale(0.9,1)" textLength="59.56">13 Apr 12:00</text>
<text transform="translate(772.2,840.2) scale(0.9,1)" textLength="59.56">14 Apr 04:00</text>
<text transform="translate(836.2,840.2) scale(0.9,1)" textLength="59.56">16 Apr 23:00</text>
<text transform="translate(900.2,840.2) scale(0.9,1)" textLength="59.56">17 Apr 12:00</text>
<text transform="translate(964.2,840.2) scale(0.9,1)" textLength="59.56">18 Apr 04:00</text>
<text transform="translate(1028.2,840.2) scale(0.9,1)" textLength="59.56">18 Apr 20:00</text>
<text transform="translate(1092.2,840.2) scale(0.9,1)" textLength="59.56">19 Apr 12:00</text>
<text transform="translate(1156.2,840.2) scale(0.9,1)" textLength="59.56">20 Apr 04:00</text>
<text transform="translate(1220.2,840.2) scale(0.9,1)" textLength="59.56">20 Apr 20:00</text>
<text transform="translate(1284.2,840.2) scale(0.9,1)" textLength="59.56">21 Apr 12:00</text>
</g>
</svg>

</body></html>
